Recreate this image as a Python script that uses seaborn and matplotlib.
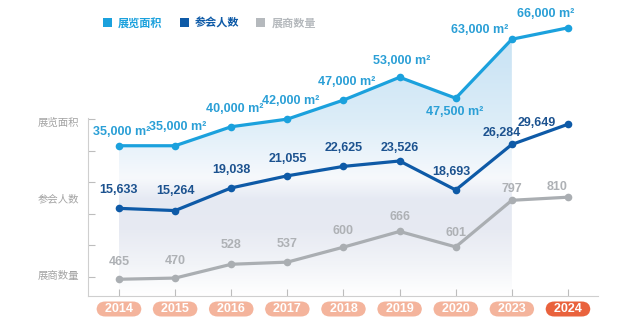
import numpy as np
import pandas as pd
import matplotlib
matplotlib.use("Agg")
import matplotlib.pyplot as plt
from matplotlib.colors import to_rgb
from matplotlib.patches import Patch
import seaborn as sns

# ---------------- data ----------------
years = ["2014", "2015", "2016", "2017", "2018", "2019", "2020", "2023", "2024"]
area = [35000, 35000, 40000, 42000, 47000, 53000, 47500, 63000, 66000]
attendees = [15633, 15264, 19038, 21055, 22625, 23526, 18693, 26284, 29649]
exhibitors = [465, 470, 528, 537, 600, 666, 601, 797, 810]
series_names = ["展览面积", "参会人数", "展商数量"]

sns.set_theme(style="white")
plt.rcParams["font.family"] = ["Liberation Sans", "Noto Sans CJK SC", "DejaVu Sans"]

C_AREA = "#1ba1dd"
C_ATT = "#0e5aa7"
C_EXH = "#aaaeb2"

x = np.arange(len(years))
df = pd.DataFrame({"x": x, "area": area, "att": attendees, "exh": exhibitors})

W, H = 640, 335
XL = (-0.552, 8.535)
fig = plt.figure(figsize=(W / 100, H / 100), dpi=100)
fig.patch.set_facecolor("white")
ax = fig.add_axes([88 / W, 39 / H, 510 / W, 291 / H])  # frame axes, y in pixel rows
ax.set_xlim(*XL)
ax.set_ylim(296, 5)
ax.set_facecolor("none")

ax_area = ax.twinx()
ax_exh = ax.twinx()
ax_att = ax.twinx()
ax_area.set_ylim(-4500, 72000)
ax_att.set_ylim(1027, 49520)
ax_exh.set_ylim(394.6, 1618)

# ---------- gradient background under area line (2014-2023) ----------
stops = [(5, "#c4e0f3"), (60, "#cde5f5"), (120, "#dcedf8"), (160, "#eef5fb"),
         (178, "#f7f9fc"), (200, "#e5e9f3"), (230, "#e7eaf2"), (265, "#f2f4f8"),
         (296, "#ffffff")]
rows = np.arange(5, 297)
grad = np.zeros((len(rows), 1, 3))
for k in range(3):
    grad[:, 0, k] = np.interp(rows, [s[0] for s in stops], [to_rgb(s[1])[k] for s in stops])
im = ax.imshow(grad, extent=(0, 7, 296, 5), origin="upper", aspect="auto", zorder=0)
fill = ax_area.fill_between(x[:8], area[:8], ax_area.get_ylim()[0], alpha=0)
im.set_clip_path(fill.get_paths()[0], ax_area.transData)
ax.set_ylim(296, 5)
ax.set_xlim(*XL)

# ---------- lines ----------
kw = dict(marker="o", markersize=5.5, linewidth=2.3, markeredgewidth=0, legend=False)
sns.lineplot(data=df, x="x", y="area", ax=ax_area, color=C_AREA, **kw)
sns.lineplot(data=df, x="x", y="exh", ax=ax_exh, color=C_EXH, **kw)
sns.lineplot(data=df, x="x", y="att", ax=ax_att, color=C_ATT, **kw)
for a in (ax_area, ax_exh, ax_att):
    a.axis("off")
    a.set_xlim(*XL)

# ---------- value labels ----------
area_off = [(3, 14), (3, 19), (3, 18), (3, 18), (3, 18), (2, 16), (-1, -14), (-32, 9), (-22, 14)]
att_off = [(0, 18), (0, 20), (0, 18), (0, 17), (0, 18), (0, 13), (-4, 18), (-10, 11), (-31, 1)]
exh_off = [(0, 17), (0, 17), (0, 19), (0, 18), (0, 16), (0, 14), (0, 14), (0, 11), (-11, 10)]
for i in range(len(years)):
    ax_area.annotate(f"{area[i]:,} m²", (x[i], area[i]),
                     xytext=(area_off[i][0] * 0.72, area_off[i][1] * 0.72),
                     textcoords="offset points", ha="center", va="center",
                     fontsize=9, fontweight="bold", color="#2a9fd6", annotation_clip=False)
    ax_att.annotate(f"{attendees[i]:,}", (x[i], attendees[i]),
                    xytext=(att_off[i][0] * 0.72, att_off[i][1] * 0.72),
                    textcoords="offset points", ha="center", va="center",
                    fontsize=9, fontweight="bold", color="#1c528f", annotation_clip=False)
    ax_exh.annotate(f"{exhibitors[i]}", (x[i], exhibitors[i]),
                    xytext=(exh_off[i][0] * 0.72, exh_off[i][1] * 0.72),
                    textcoords="offset points", ha="center", va="center",
                    fontsize=9, fontweight="bold", color="#aeb1b5", annotation_clip=False)

# ---------- frame ----------
for s in ("top", "right"):
    ax.spines[s].set_visible(False)
for s in ("left", "bottom"):
    ax.spines[s].set_color("#cfcfcf")
    ax.spines[s].set_linewidth(0.8)
ax.spines["left"].set_bounds(296, 118)
ax.set_yticks([119, 151, 182, 214, 245, 277])
ax.set_yticklabels([])
ax.set_xticks(x)
ax.set_xticklabels([])
ax.tick_params(axis="both", direction="in", length=5, width=0.8, color="#bdbdbd",
               left=True, bottom=True)
ax.grid(False)

# y band labels
for name, ypx in zip(series_names, [123, 199, 276]):
    fig.text(79 / W, 1 - ypx / H, name, ha="right", va="center", fontsize=7.5,
             color="#a3a3a3", family=["Noto Sans CJK SC", "DejaVu Sans"])

# year pills
for i, yr in enumerate(years):
    fc = "#e9623d" if yr == "2024" else "#f4b49c"
    ax.text(x[i], 309, f"  {yr}  ", ha="center", va="center", fontsize=9,
            fontweight="bold", color="white", clip_on=False,
            bbox=dict(boxstyle="round,pad=0.12,rounding_size=0.7", fc=fc, ec="none"))

# legend
handles = [Patch(facecolor=c, edgecolor="none") for c in (C_AREA, C_ATT, "#b5b9bd")]
fig.legend(handles, series_names, loc="center left", bbox_to_anchor=(103 / W, 1 - 23 / H),
           ncol=3, frameon=False, borderaxespad=0, borderpad=0, handlelength=0.8,
           handleheight=0.8, handletextpad=0.55, columnspacing=1.55,
           labelcolor=[C_AREA, C_ATT, "#b5b9bd"],
           prop={"family": ["Noto Sans CJK SC", "DejaVu Sans"], "weight": "bold", "size": 8})

fig.savefig("out.png", dpi=100, facecolor="white")
